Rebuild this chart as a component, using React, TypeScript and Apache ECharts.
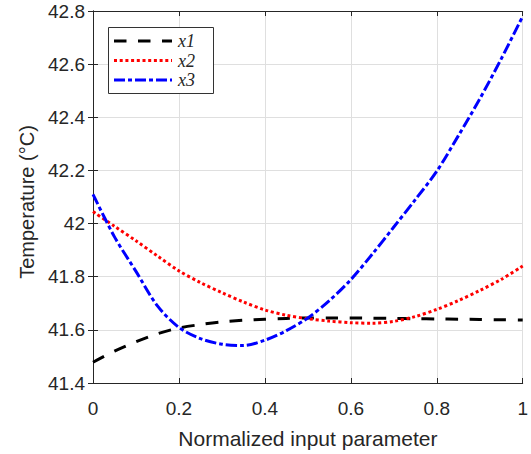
import React, { useEffect, useRef } from "react";
import * as echarts from "echarts";

const xValues = [0, 0.05, 0.1, 0.15, 0.2, 0.25, 0.3, 0.35, 0.4, 0.45, 0.5, 0.55, 0.6, 0.65, 0.7, 0.75, 0.8, 0.85, 0.9, 0.95, 1];
const x1Values = [41.478, 41.52, 41.555, 41.585, 41.607, 41.62, 41.63, 41.636, 41.64, 41.643, 41.645, 41.645, 41.645, 41.644, 41.643, 41.642, 41.641, 41.64, 41.639, 41.638, 41.637];
const x2Values = [42.045, 41.99, 41.935, 41.878, 41.822, 41.778, 41.74, 41.705, 41.675, 41.655, 41.642, 41.633, 41.627, 41.625, 41.632, 41.65, 41.677, 41.71, 41.748, 41.79, 41.84];
const x3Values = [42.11, 41.95, 41.82, 41.69, 41.609, 41.567, 41.546, 41.541, 41.561, 41.597, 41.645, 41.71, 41.789, 41.885, 41.987, 42.09, 42.197, 42.33, 42.469, 42.62, 42.78];
const seriesNames = ["x1", "x2", "x3"];
const xTitle = "Normalized input parameter";
const yTitle = "Temperature (°C)";

const FONT = "Liberation Sans";
const TXT = "#262626";
const COLORS = ["#000000", "#ff0000", "#0000ff"];
const DASHES = [[12.5, 11.5], [3, 2.7], [11, 3, 4, 3]];

export default function App() {
  const ref = useRef<HTMLDivElement>(null);
  useEffect(() => {
    if (!ref.current) return;
    const chart = echarts.init(ref.current, undefined, { renderer: "svg" });
    const pair = (ys: number[]) => xValues.map((x, i) => [x, ys[i]]);
    const axisCommon = {
      axisLine: { show: true, lineStyle: { color: TXT, width: 1 } },
      axisTick: { show: true, inside: true, length: 5, lineStyle: { color: TXT } },
    };
    const legendRows = [41, 60.5, 80];
    const legendGraphics: any[] = [
      { type: "rect", shape: { x: 108.5, y: 27.5, width: 105, height: 66 }, style: { fill: "#fff", stroke: "#333", lineWidth: 1 }, z: 100 },
    ];
    seriesNames.forEach((n, i) => {
      legendGraphics.push({
        type: "line", shape: { x1: 114, y1: legendRows[i], x2: 172, y2: legendRows[i] },
        style: { stroke: COLORS[i], lineWidth: 3, lineDash: DASHES[i] }, z: 101,
      });
      legendGraphics.push({
        type: "text", x: 178, y: legendRows[i],
        style: { text: n, fill: TXT, font: `italic 18px "Liberation Serif"`, lineHeight: 18, align: "left", verticalAlign: "middle" }, z: 101,
      });
    });
    chart.setOption({
      animation: false,
      grid: { left: 93, right: 5, top: 11, bottom: 66, show: false },
      xAxis: [
        {
          type: "value", min: 0, max: 1, interval: 0.2,
          ...axisCommon,
          axisLabel: { color: TXT, fontFamily: FONT, fontSize: 19, margin: 16,
            formatter: (v: number) => String(Math.round(v * 10) / 10) },
          splitLine: { show: true, lineStyle: { color: "#dfdfdf", width: 1 } },
          name: xTitle, nameLocation: "middle", nameGap: 45,
          nameTextStyle: { color: TXT, fontFamily: FONT, fontSize: 21 },
        },
        {
          type: "value", min: 0, max: 1, interval: 0.2, position: "top",
          ...axisCommon, axisLabel: { show: false }, splitLine: { show: false },
        },
      ],
      yAxis: [
        {
          type: "value", min: 41.4, max: 42.8, interval: 0.2,
          ...axisCommon,
          axisLabel: { color: TXT, fontFamily: FONT, fontSize: 19, margin: 8,
            formatter: (v: number) => String(Math.round(v * 10) / 10) },
          splitLine: { show: true, lineStyle: { color: "#dfdfdf", width: 1 } },
        },
        {
          type: "value", min: 41.4, max: 42.8, interval: 0.2, position: "right",
          ...axisCommon, axisLabel: { show: false }, splitLine: { show: false },
        },
      ],
      graphic: [
        {
          type: "text", x: 27, y: 202, rotation: Math.PI / 2,
          style: { text: yTitle, fill: TXT, font: `20px "${FONT}"`, align: "center", verticalAlign: "middle" },
        },
        ...legendGraphics,
      ],
      series: seriesNames.map((n, i) => ({
        name: n, type: "line", data: pair([x1Values, x2Values, x3Values][i]), smooth: 0.3,
        showSymbol: false, symbol: "none",
        lineStyle: { color: COLORS[i], width: 3, type: DASHES[i] },
        itemStyle: { color: COLORS[i] },
      })),
    });
    return () => chart.dispose();
  }, []);
  return <div ref={ref} style={{ position: "absolute", left: 0, top: 0, width: 531, height: 454, background: "#fff" }} />;
}
